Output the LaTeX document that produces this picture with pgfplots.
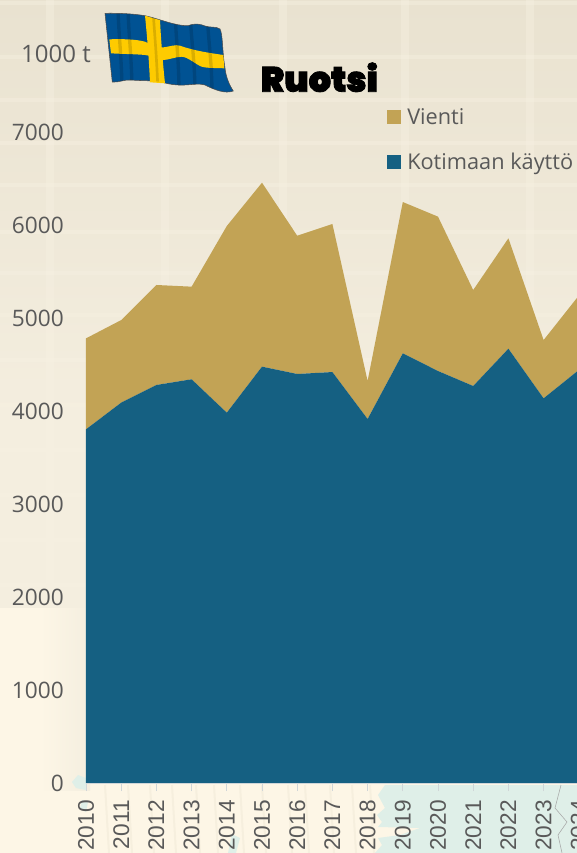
\documentclass[border=0pt]{standalone}
\usepackage{pgfplots}
\usepackage{pgfplotstable}
\usepackage{fontspec}
\pgfplotsset{compat=1.18}
\setmainfont{Open Sans}
\newfontfamily\tickfont{Liberation Sans}
\newfontfamily\titlefont[FakeBold=2.5]{Poppins Black}
\definecolor{Vienti}{HTML}{C2A355}
\definecolor{Koti}{HTML}{156082}
\definecolor{Txt}{HTML}{595959}
\definecolor{BgTop}{HTML}{E9E2D0}
\definecolor{BgMid}{HTML}{F4EEDF}
\definecolor{BgLow}{HTML}{FDF6E6}
\definecolor{Grid}{HTML}{F7F1E2}
\definecolor{Sea}{HTML}{DFEFE8}
\definecolor{AxisLine}{HTML}{D0D6D8}
\definecolor{FlagBlue}{HTML}{005293}
\definecolor{FlagYellow}{HTML}{FECB00}
\pgfplotstableread{
year koti vienti
2010 3803 978
2011 4090 888
2012 4280 1075
2013 4341 996
2014 3982 2007
2015 4477 1978
2016 4398 1487
2017 4419 1592
2018 3914 409
2019 4620 1627
2020 4430 1660
2021 4269 1032
2022 4670 1187
2023 4136 627
2024 4441 800
}\ruotsi
\def\flagoutline{(105,13.3)
  .. controls (120,13) and (135,14) .. (145,15.7)
  .. controls (160,19) and (175,26) .. (188,25.7)
  .. controls (195,23) and (200,24) .. (205,26)
  .. controls (210,28) and (216,26) .. (220,29)
  .. controls (223,35) and (222,50) .. (225,68)
  .. controls (226,78) and (230,86) .. (233.3,91)
  .. controls (225,94) and (215,90) .. (205,85)
  .. controls (195,82) and (185,88) .. (165,83)
  .. controls (155,80) and (140,81) .. (131.7,80)
  .. controls (125,79) and (118,83) .. (112.3,82) -- cycle}
\begin{document}
\begin{tikzpicture}
\path[use as bounding box] (0pt,0pt) rectangle (432.75pt,-639.75pt);
\begin{scope}[x=0.75pt,y=-0.75pt]
% background
\fill[BgLow] (0,0) rectangle (577,853);
\shade[top color=BgTop,bottom color=BgMid] (0,0) rectangle (577,420);
\fill[BgMid] (0,420) rectangle (577,608);
\shade[left color=BgLow,right color=BgMid] (40,608) rectangle (90,790);
\foreach \x in {105,128,150,172,196,214,240,262,288,305,330,352,370}
  \draw[BgTop,line width=1.5pt,opacity=.35] (\x,785) -- (\x+4,853);
\fill[Sea] (385,785) -- (378,795) -- (385,808) -- (377,815) -- (382,822) -- (378,827) -- (420,828) -- (400,835) -- (378,838) -- (382,845) -- (375,853) -- (577,853) -- (577,785) -- cycle;
\fill[Sea] (72,782) -- (78,775) -- (86,778) -- (86,790) -- (76,788) -- cycle;
\fill[Sea] (82,800) -- (88,802) -- (86,812) -- (80,808) -- cycle;
\fill[Sea] (232,834) -- (240,838) -- (236,853) -- (228,853) -- cycle;
\draw[black!35,line width=.4pt] (561,785) -- (555,808) -- (567,822) -- (558,835) -- (562,853);
\foreach \y in {3,57,100,143,185,232,273,315,360,405,450,495,540,585}
  \draw[Grid,line width=3pt,opacity=.4] (0,\y) -- (577,\y);
\foreach \x in {50,165,283,405,530}
  \draw[Grid,line width=6pt,opacity=.4] (\x,0) -- (\x,600);
% flag
\fill[FlagBlue,draw=black!70,line width=.4pt] \flagoutline;
\fill[FlagYellow] (109.3,39.3) .. controls (122,39) and (135,39) .. (145,41.7)
  .. controls (150,44) and (155,48) .. (160,47.7)
  .. controls (170,47) and (175,44) .. (180,45.7)
  .. controls (195,51) and (210,53) .. (223.3,55)
  -- (224.3,68.3)
  .. controls (215,68) and (205,68) .. (201.7,66.7)
  .. controls (195,64) and (188,57) .. (181.7,56.7)
  .. controls (175,57) and (168,60) .. (163.3,60)
  .. controls (155,59) and (150,55) .. (145,55)
  .. controls (135,54) and (120,54) .. (111,53.3) -- cycle;
\fill[FlagYellow] (145,15.7) .. controls (150,17) and (155,19) .. (160,20)
  .. controls (161,40) and (163,65) .. (165,83.3)
  -- (150,82.3) .. controls (149,60) and (147,35) .. (145,15.7) -- cycle;
\begin{scope}
\clip \flagoutline;
\foreach \a/\b in {118/122,128/132,175/179,190/195,207/212}
  \draw[black,opacity=.14,line width=2.5pt] (\a,10) .. controls (\a+1,40) and (\b,60) .. (\b,95);
\draw[black,opacity=.14,line width=2pt] (153,10) .. controls (155,40) and (157,60) .. (158,95);
\end{scope}
% texts
\node[anchor=base east,text=Txt,font=\fontsize{18}{20}\selectfont,inner sep=0pt] at (91,62) {1000 t};
\node[anchor=base west,font=\titlefont\fontsize{26.3}{29}\selectfont,text=black,inner sep=0pt] at (260.5,91.7) {Ruotsi};
\fill[Vienti] (387,110) rectangle (401,124);
\node[anchor=base west,text=Txt,font=\fontsize{16.3}{18}\selectfont,inner sep=0pt] at (407,124) {Vienti};
\fill[Koti] (387,155) rectangle (401,169);
\node[anchor=base west,text=Txt,font=\fontsize{16.3}{18}\selectfont,inner sep=0pt] at (407,169.3) {Kotimaan käyttö};
\end{scope}
\begin{axis}[
  at={(64.5pt,-587.25pt)},anchor=south west,
  scale only axis,
  width=369.6pt,height=488.25pt,
  xmin=0,xmax=14,ymin=0,ymax=7000,
  axis y line*=left,axis x line*=bottom,
  y axis line style={draw=none},
  x axis line style={AxisLine,line width=.6pt,-},
  xtick={0,...,14},
  xticklabels={2010,2011,2012,2013,2014,2015,2016,2017,2018,2019,2020,2021,2022,2023,2024},
  ytick={0,1000,...,7000},
  tick align=outside,
  tick style={AxisLine,line width=.6pt},
  major tick length=6pt,
  ytick style={draw=none},
  xticklabel shift=6.75pt,
  yticklabel shift=10.5pt,
  x tick label style={rotate=90,anchor=east,inner sep=0pt,font=\tickfont\fontsize{17}{18}\selectfont,text=Txt},
  y tick label style={inner sep=0pt,font=\fontsize{17}{19}\selectfont,text=Txt},
  /pgf/number format/assume math mode=true,
  /pgf/number format/1000 sep={},
  stack plots=y,
  area style,
  clip=true,
]
\addplot[fill=Koti,draw=none] table[x expr=\thisrow{year}-2010,y=koti] {\ruotsi} \closedcycle;
\addplot[fill=Vienti,draw=none] table[x expr=\thisrow{year}-2010,y=vienti] {\ruotsi} \closedcycle;
\end{axis}
\end{tikzpicture}
\end{document}
